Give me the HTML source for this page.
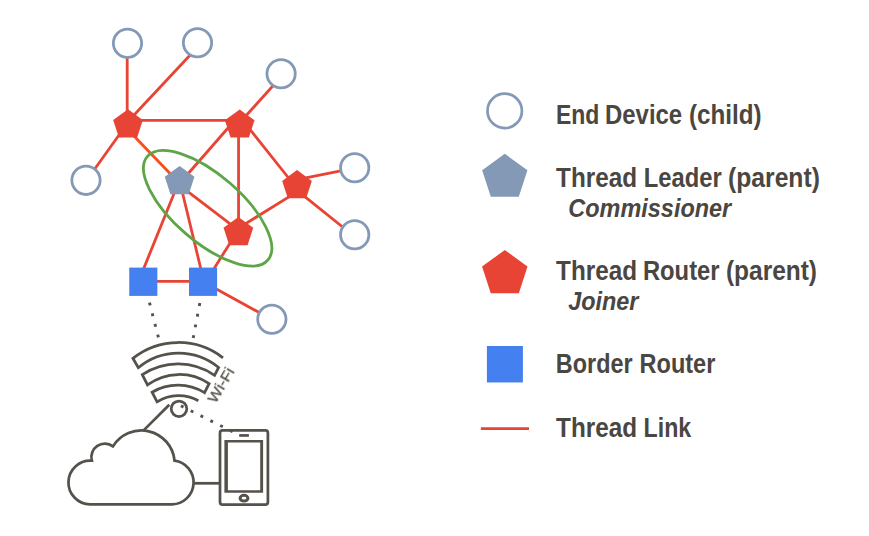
<!DOCTYPE html>
<html lang="en"><head><meta charset="utf-8"><title>Thread network commissioning roles</title>
<style>html,body{margin:0;padding:0;background:#fff;}body{width:869px;height:536px;overflow:hidden;}svg{display:block;}</style>
</head><body>
<svg width="869" height="536" viewBox="0 0 869 536" role="img" aria-label="Thread network diagram">
<defs><filter id="gs" x="-20%" y="-20%" width="140%" height="140%" color-interpolation-filters="sRGB"><feOffset dx="0" dy="0"/></filter></defs>
<rect width="869" height="536" fill="#fff"/>
<g stroke="#E84435" stroke-width="2.8" fill="none">
<line x1="126" y1="127.8" x2="177" y2="180.7" stroke="#F84E1E"/>
<line x1="127.2" y1="50" x2="127.2" y2="115"/>
<line x1="198.6" y1="46" x2="129.4" y2="120"/>
<line x1="128" y1="120.3" x2="240" y2="120.3"/>
<line x1="126.2" y1="125" x2="88.3" y2="178"/>
<line x1="231.5" y1="124" x2="182.6" y2="180"/>
<line x1="282.7" y1="75" x2="240.3" y2="122"/>
<line x1="238.55" y1="125" x2="238.55" y2="225"/>
<line x1="245.7" y1="124" x2="294.2" y2="185"/>
<line x1="297" y1="179.6" x2="352" y2="168.6"/>
<line x1="297" y1="190.3" x2="352" y2="234.5"/>
<line x1="297" y1="191.9" x2="238" y2="228.4"/>
<line x1="180" y1="185.6" x2="238" y2="229.8"/>
<line x1="177.5" y1="185" x2="142.5" y2="271.5"/>
<line x1="180.6" y1="185" x2="201.6" y2="272"/>
<line x1="235.1" y1="235" x2="211.9" y2="272"/>
<line x1="150" y1="281.45" x2="195" y2="281.45"/>
<line x1="205" y1="282.7" x2="270" y2="318.5"/>
</g>
<ellipse cx="207.65" cy="208.2" rx="79.45" ry="33.6" transform="rotate(40.7 207.65 208.2)" fill="none" stroke="#5DA547" stroke-width="2.8"/>
<circle cx="127.5" cy="43.2" r="14.15" fill="#fff" stroke="#8499B5" stroke-width="2.8"/>
<circle cx="197.5" cy="42.8" r="14.15" fill="#fff" stroke="#8499B5" stroke-width="2.8"/>
<circle cx="281.1" cy="73.7" r="14.15" fill="#fff" stroke="#8499B5" stroke-width="2.8"/>
<circle cx="86.0" cy="180.35" r="14.15" fill="#fff" stroke="#8499B5" stroke-width="2.8"/>
<circle cx="354.7" cy="167.75" r="14.15" fill="#fff" stroke="#8499B5" stroke-width="2.8"/>
<circle cx="354.7" cy="234.8" r="14.15" fill="#fff" stroke="#8499B5" stroke-width="2.8"/>
<circle cx="271.85" cy="319.2" r="14.15" fill="#fff" stroke="#8499B5" stroke-width="2.8"/>
<polygon points="128.00,109.30 142.84,120.08 137.17,137.52 118.83,137.52 113.16,120.08" fill="#E84435"/>
<polygon points="239.70,109.40 254.54,120.18 248.87,137.62 230.53,137.62 224.86,120.18" fill="#E84435"/>
<polygon points="297.00,170.10 311.84,180.88 306.17,198.32 287.83,198.32 282.16,180.88" fill="#E84435"/>
<polygon points="238.40,217.00 253.24,227.78 247.57,245.22 229.23,245.22 223.56,227.78" fill="#E84435"/>
<polygon points="179.60,166.00 194.44,176.78 188.77,194.22 170.43,194.22 164.76,176.78" fill="#8499B5"/>
<rect x="129.25" y="267.6" width="28.10" height="28.30" fill="#4480F0"/>
<rect x="189.0" y="267.6" width="28.10" height="28.30" fill="#4480F0"/>
<g fill="#55524B">
<rect x="148.40" y="302.55" width="2.9" height="2.9" transform="rotate(75.6 149.85 304.00)"/>
<rect x="151.13" y="313.22" width="2.9" height="2.9" transform="rotate(75.6 152.58 314.67)"/>
<rect x="153.86" y="323.89" width="2.9" height="2.9" transform="rotate(75.6 155.31 325.34)"/>
<rect x="156.59" y="334.56" width="2.9" height="2.9" transform="rotate(75.6 158.04 336.01)"/>
<rect x="198.10" y="303.05" width="2.9" height="2.9" transform="rotate(100.7 199.55 304.50)"/>
<rect x="196.07" y="313.75" width="2.9" height="2.9" transform="rotate(100.7 197.52 315.20)"/>
<rect x="194.04" y="324.45" width="2.9" height="2.9" transform="rotate(100.7 195.49 325.90)"/>
<rect x="192.01" y="335.15" width="2.9" height="2.9" transform="rotate(100.7 193.46 336.60)"/>
</g>
<path d="M223.0,357.9 A72.85,72.85 0 0 0 132.9,358.3 L138.3,367.75 A62.92,62.92 0 0 1 218.6,367.5 L214.6,375.3 A64.42,64.42 0 0 0 142.3,374.7 L147.5,384.9 A53.32,53.32 0 0 1 209.1,383.7 L204.5,392.7 A50.97,50.97 0 0 0 152.1,392.2 L157.1,401.8 A41.22,41.22 0 0 1 198.4,400.7" fill="none" stroke="#55524B" stroke-width="2.75" stroke-linejoin="miter"/>
<circle cx="179.0" cy="408.8" r="7.8" fill="none" stroke="#55524B" stroke-width="2.75"/>
<line x1="143.6" y1="430.4" x2="169.3" y2="404.7" stroke="#55524B" stroke-width="2.75"/>
<text transform="translate(215.5 404.1) rotate(-59.5)" textLength="38" lengthAdjust="spacingAndGlyphs" font-family="'Liberation Sans', sans-serif" font-size="15" fill="#55524B" stroke="#55524B" stroke-width="0.25" filter="url(#gs)">Wi-Fi</text>
<path d="M90.05,504.35 A21.9,21.9 0 1 1 91.8,460.6 A13.5,13.5 0 0 1 112.95,446.35 A33.3,33.3 0 0 1 174.5,460.55 A22,22 0 0 1 172.2,504.35 Z" fill="none" stroke="#55524B" stroke-width="2.75" stroke-linejoin="miter"/>
<line x1="193.8" y1="483.3" x2="220" y2="483.3" stroke="#55524B" stroke-width="2.75"/>
<rect x="220.0" y="430.3" width="47.9" height="74.3" rx="2.6" fill="none" stroke="#55524B" stroke-width="2.75"/>
<path fill-rule="evenodd" fill="#55524B" d="M224.4,440.0H263.1V492.8H224.4Z M227.9,442.6V490.2H260.2V442.6Z"/>
<rect x="239.2" y="434.1" width="9.7" height="2.7" fill="#55524B"/>
<ellipse cx="244.0" cy="498.2" rx="3.9" ry="2.9" fill="none" stroke="#55524B" stroke-width="3"/>
<g fill="#55524B">
<rect x="180.75" y="405.00" width="2.9" height="2.9" transform="rotate(26.7 182.20 406.45)"/>
<rect x="190.57" y="409.93" width="2.9" height="2.9" transform="rotate(26.7 192.02 411.38)"/>
<rect x="200.39" y="414.86" width="2.9" height="2.9" transform="rotate(26.7 201.84 416.31)"/>
<rect x="210.21" y="419.79" width="2.9" height="2.9" transform="rotate(26.7 211.66 421.24)"/>
<rect x="220.03" y="424.72" width="2.9" height="2.9" transform="rotate(26.7 221.48 426.17)"/>
<rect x="229.85" y="429.65" width="2.9" height="2.9" transform="rotate(26.7 231.30 431.10)"/>
</g>
<circle cx="504.7" cy="110.9" r="17.2" fill="#fff" stroke="#8499B5" stroke-width="2.7"/>
<polygon points="504.80,153.80 527.44,170.25 518.79,196.85 490.81,196.85 482.16,170.25" fill="#8499B5"/>
<polygon points="504.80,250.00 527.53,266.51 518.85,293.24 490.75,293.24 482.07,266.51" fill="#E84435"/>
<rect x="486.9" y="346" width="36" height="36.45" fill="#4480F0"/>
<line x1="480.9" y1="428.65" x2="529" y2="428.65" stroke="#E84435" stroke-width="2.7"/>
<text x="555.89" y="123.6" font-family="'Liberation Sans', sans-serif" font-size="27.0" font-weight="bold" fill="#4A4641"><tspan x="555.89" textLength="43.42" lengthAdjust="spacingAndGlyphs">End</tspan> <tspan x="605.04" textLength="77.08" lengthAdjust="spacingAndGlyphs">Device</tspan> <tspan x="689.01" textLength="72.62" lengthAdjust="spacingAndGlyphs">(child)</tspan></text>
<text x="556.11" y="186.6" font-family="'Liberation Sans', sans-serif" font-size="27.0" font-weight="bold" fill="#4A4641"><tspan x="556.11" textLength="80.96" lengthAdjust="spacingAndGlyphs">Thread</tspan> <tspan x="643.74" textLength="77.9" lengthAdjust="spacingAndGlyphs">Leader</tspan> <tspan x="728.05" textLength="91.8" lengthAdjust="spacingAndGlyphs">(parent)</tspan></text>
<text x="568.36" y="216.5" font-family="'Liberation Sans', sans-serif" font-size="25.9" font-weight="bold" font-style="italic" fill="#4A4641"><tspan x="568.36" textLength="162.87" lengthAdjust="spacingAndGlyphs">Commissioner</tspan></text>
<text x="556.11" y="279.6" font-family="'Liberation Sans', sans-serif" font-size="27.0" font-weight="bold" fill="#4A4641"><tspan x="556.11" textLength="80.96" lengthAdjust="spacingAndGlyphs">Thread</tspan> <tspan x="642.96" textLength="76.54" lengthAdjust="spacingAndGlyphs">Router</tspan> <tspan x="725.94" textLength="91.08" lengthAdjust="spacingAndGlyphs">(parent)</tspan></text>
<text x="568.21" y="309.7" font-family="'Liberation Sans', sans-serif" font-size="25.9" font-weight="bold" font-style="italic" fill="#4A4641"><tspan x="568.21" textLength="70.29" lengthAdjust="spacingAndGlyphs">Joiner</tspan></text>
<text x="555.87" y="372.7" font-family="'Liberation Sans', sans-serif" font-size="27.0" font-weight="bold" fill="#4A4641"><tspan x="555.87" textLength="76.69" lengthAdjust="spacingAndGlyphs">Border</tspan> <tspan x="639.52" textLength="75.81" lengthAdjust="spacingAndGlyphs">Router</tspan></text>
<text x="556.11" y="436.8" font-family="'Liberation Sans', sans-serif" font-size="27.0" font-weight="bold" fill="#4A4641"><tspan x="556.11" textLength="80.96" lengthAdjust="spacingAndGlyphs">Thread</tspan> <tspan x="643.62" textLength="47.65" lengthAdjust="spacingAndGlyphs">Link</tspan></text>
</svg>
</body></html>
